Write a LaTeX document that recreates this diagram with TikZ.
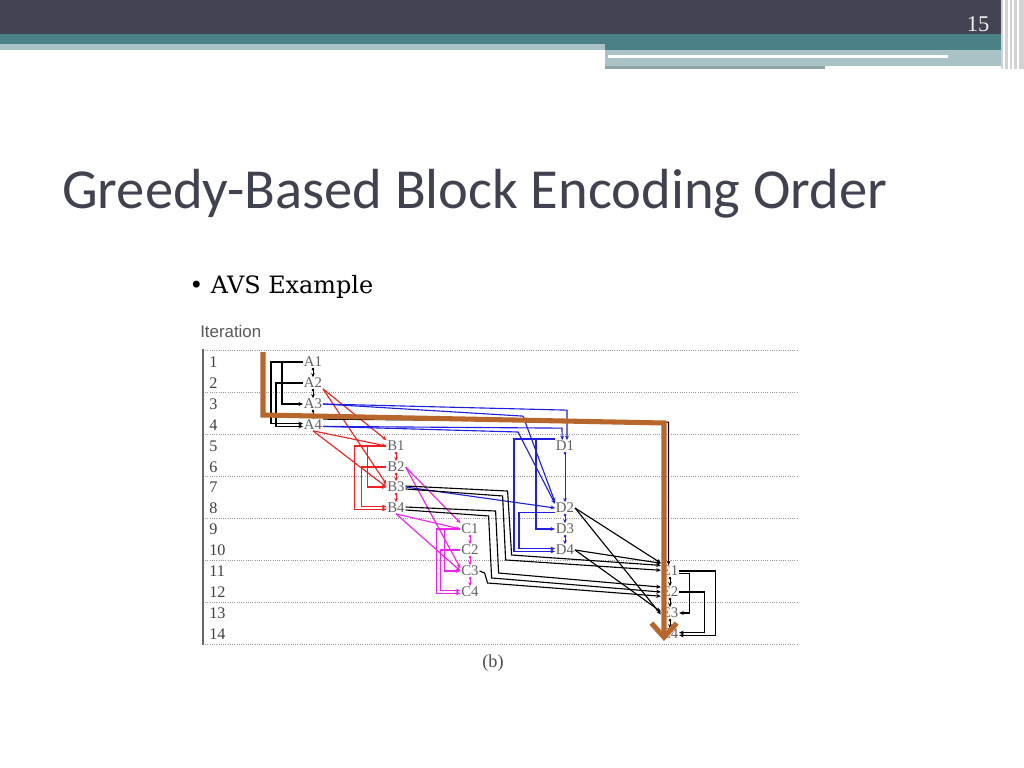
\documentclass[tikz,border=0pt]{standalone}
\usepackage{fontspec}
\setmainfont{Liberation Serif}
\newfontfamily\titlefont{Carlito}
\newfontfamily\bodyfont{DejaVu Serif}
\newfontfamily\labelfont{Liberation Sans}
\usetikzlibrary{positioning,arrows.meta,calc}
\definecolor{hdrdark}{HTML}{434453}
\definecolor{hdrteal}{HTML}{4A8187}
\definecolor{hdrlight}{HTML}{A9C2C5}
\definecolor{titlegray}{HTML}{40424F}
\definecolor{pathorange}{HTML}{B8662C}
\definecolor{blkred}{HTML}{F02020}
\definecolor{blkblue}{HTML}{2020E0}
\definecolor{blkmag}{HTML}{F020F0}

\begin{document}
\begin{tikzpicture}[
  x=0.025cm, y=-0.025cm,
  blk/.style={inner sep=0.5pt, font=\fontsize{10.5}{10}\selectfont, text=black!62},
  rownum/.style={anchor=west, inner sep=0pt, font=\fontsize{11.5}{12}\selectfont, text=black!75},
  link/.style={line width=0.8pt, -{Stealth[length=3.2pt,width=2.8pt]}},
  vstep/.style={line width=0.7pt, {Circle[length=1.8pt]}-{Stealth[length=2.8pt,width=2.6pt]}},
  rowline/.style={gray!80, line width=0.7pt, dash pattern=on 0.7pt off 0.9pt},
  orangepath/.style={pathorange, line width=3.6pt, line join=miter,
                     -{Straight Barb[length=10pt,width=18pt]}},
]
\useasboundingbox (0,0) rectangle (1024,768);
\fill[white] (0,0) rectangle (1024,768);

% ================= slide header =================
\fill[hdrdark] (0,0) rectangle (1024,34);
\fill[hdrteal] (0,34) rectangle (1005,44);
\fill[hdrlight] (0,44) rectangle (605,50);
\fill[hdrteal] (605,44) rectangle (1005,50);
\fill[hdrlight] (605,50) rectangle (1005,66);
\fill[white] (608,55) rectangle (948,58);
\fill[hdrlight!85!black] (605,66) rectangle (825,69);
\fill[gray!35] (1001,0) rectangle (1024,69);
\draw[white, line width=0.8pt] (1004,0) -- (1004,69) (1009,0) -- (1009,69)
     (1013,0) -- (1013,69) (1018,0) -- (1018,69);
\node[text=white!88!gray, font=\fontsize{16}{16}\selectfont] (pnum) at (978,24) {15};

% title and bullet
\node[anchor=base west, inner sep=0pt, text=titlegray,
      font=\titlefont\fontsize{40.2}{41}\selectfont] (title) at (62,208)
     {Greedy-Based Block Encoding Order};
\node[anchor=base west, inner sep=0pt, font=\bodyfont\fontsize{17}{18}\selectfont]
     (bullet) at (189,293) {\textbullet\ AVS Example};

% ================= iteration grid =================
\node[anchor=base west, inner sep=0pt, text=black!65,
      font=\labelfont\fontsize{12}{12}\selectfont] (iter) at (200,337) {Iteration};
\draw[rowline] (205,350) -- (797,350);
\draw[rowline] (205,392) -- (797,392);
\draw[rowline] (205,434) -- (797,434);
\draw[rowline] (205,476) -- (797,476);
\draw[rowline] (205,518) -- (797,518);
\draw[rowline] (205,560) -- (797,560);
\draw[rowline] (205,602) -- (797,602);
\draw[rowline] (205,644) -- (797,644);
\draw[black!60, line width=0.9pt] (203,349) -- (203,645);

\node[rownum] (r1) at (209,362) {1};   \node[rownum] (r2) at (209,383) {2};
\node[rownum] (r3) at (209,404) {3};   \node[rownum] (r4) at (209,425) {4};
\node[rownum] (r5) at (209,446) {5};   \node[rownum] (r6) at (209,467) {6};
\node[rownum] (r7) at (209,487) {7};   \node[rownum] (r8) at (209,508) {8};
\node[rownum] (r9) at (209,529) {9};   \node[rownum] (r10) at (209,550) {10};
\node[rownum] (r11) at (209,571) {11}; \node[rownum] (r12) at (209,592) {12};
\node[rownum] (r13) at (209,613) {13}; \node[rownum] (r14) at (209,634) {14};

% ================= blocks =================
\node[blk] (A1) at (313,362) {A1}; \node[blk] (A2) at (313,383) {A2};
\node[blk] (A3) at (313,404) {A3}; \node[blk] (A4) at (313,425) {A4};
\node[blk] (B1) at (396,446) {B1}; \node[blk] (B2) at (396,467) {B2};
\node[blk] (B3) at (396,487) {B3}; \node[blk] (B4) at (396,508) {B4};
\node[blk] (C1) at (470,529) {C1}; \node[blk] (C2) at (470,550) {C2};
\node[blk] (C3) at (470,571) {C3}; \node[blk] (C4) at (470,592) {C4};
\node[blk] (D1) at (565,446) {D1}; \node[blk] (D2) at (565,508) {D2};
\node[blk] (D3) at (565,529) {D3}; \node[blk] (D4) at (565,550) {D4};
\node[blk] (E1) at (670,571) {E1}; \node[blk] (E2) at (670,592) {E2};
\node[blk] (E3) at (670,613) {E3}; \node[blk] (E4) at (670,634) {E4};

% ================= A group (black) =================
\draw[link] (A1.west) -- ++(-21,0) |- (A3.west);
\draw[link] (A1.west) -- ++(-32,0) |- ([yshift=1pt]A4.west);
\draw[link] (A2.west) -- ++(-27,0) |- ([yshift=-1pt]A4.west);
\draw[vstep] (A1) -- (A2);
\draw[vstep] (A2) -- (A3);
\draw[vstep] (A3) -- (A4);

% ================= B group (red) =================
\draw[link, blkred] (A2.south east) -- (B1.north west);
\draw[link, blkred] (A2.south east) -- ([yshift=2pt]B3.west);
\draw[link, blkred] (A4.south) -- (B1.west);
\draw[link, blkred] (A4.south) -- (B3.west);
\draw[link, blkred] (B1.west) -- ++(-19,0) |- (B3.west);
\draw[link, blkred] (B1.west) -- ++(-32,0) |- ([yshift=-1pt]B4.west);
\draw[link, blkred] (B2.west) -- ++(-25,0) |- ([yshift=1pt]B4.west);
\draw[vstep, blkred] (B1) -- (B2);
\draw[vstep, blkred] (B2) -- (B3);
\draw[vstep, blkred] (B3) -- (B4);

% ================= C group (magenta) =================
\draw[link, blkmag] (B2.east) -- (C1.north west);
\draw[link, blkmag] (B2.east) -- ([yshift=2pt]C3.west);
\draw[link, blkmag] (B4.south) -- (C1.west);
\draw[link, blkmag] (B4.south) -- (C3.west);
\draw[link, blkmag] (C1.west) -- ++(-16,0) |- (C3.west);
\draw[link, blkmag] (C1.west) -- ++(-24,0) |- ([yshift=-1pt]C4.west);
\draw[link, blkmag] (C2.west) -- ++(-20,0) |- ([yshift=1pt]C4.west);
\draw[vstep, blkmag] (C1) -- (C2);
\draw[vstep, blkmag] (C2) -- (C3);
\draw[vstep, blkmag] (C3) -- (C4);

% ================= D group (blue) =================
\draw[link, blkblue] (A3.east) -- ($(D1.north)+(2,-30)$) -- ([xshift=1.4pt]D1.north);
\draw[link, blkblue] (A3.east) -- ($(D2.north west)+(-32,-86)$) -- (D2.north west);
\draw[link, blkblue] ([yshift=-1pt]A4.east) -- ($(D1.north)+(-3,-12)$) -- ([xshift=-2pt]D1.north);
\draw[link, blkblue] ([yshift=-1pt]A4.east) -- ($(D2.west)+(-37,-76)$) -- ([yshift=3pt]D2.west);
\draw[link, blkblue] (B3.east) -- (D2.west);
\draw[link, blkblue] ([yshift=5pt]D1.west) -- ++(-19,0) |- (D3.west);
\draw[link, blkblue] ([yshift=5pt]D1.west) -- ++(-41,0) |- ([yshift=-1pt]D4.west);
\draw[link, blkblue] ([yshift=-3pt]D2.west) -- ++(-36,0) |- ([yshift=1pt]D4.west);
\draw[vstep, blkblue] (D1) -- (D2);
\draw[vstep, blkblue] (D2) -- (D3);
\draw[vstep, blkblue] (D3) -- (D4);

% ================= E group (black) =================
\draw[link] (A4.north east) -- ($(E1.north)+(-1.5,-143)$) -- ([xshift=-1pt]E1.north);
\draw[link] ([yshift=0.7pt]B3.east) -- ++(102,5) -- ++(4,64) -- ([yshift=4pt]E1.west);
\draw[link] ([yshift=-1.4pt]B3.east) -- ++(97,7) -- ++(3,64) -- ([yshift=0.5pt]E1.west);
\draw[link] ([yshift=0.7pt]B4.east) -- ++(90,4) -- ++(3,62) -- ([yshift=3.5pt]E2.west);
\draw[link] ([yshift=-1.4pt]B4.east) -- ++(83,6) -- ++(3,62) -- (E2.west);
\draw[link] (C3.east) -- ++(5,2) -- ++(3,10) -- ([yshift=-3pt]E2.west);
\draw[link] (D2.east) -- ([yshift=1.5pt]E1.north west);
\draw[link] (D2.east) -- ([yshift=-1pt]E3.west);
\draw[link] (D4.east) -- ([yshift=5.5pt]E1.west);
\draw[link] (D4.east) -- ([yshift=1pt]E3.west);
\draw[link] (E1.east) -- ++(36,0) |- ([yshift=-1pt]E4.east);
\draw[link] ([yshift=-2pt]E1.east) -- ++(10,0) |- (E3.east);
\draw[link] (E2.east) -- ++(25,0) |- ([yshift=1pt]E4.east);
\draw[vstep] (E1) -- (E2);
\draw[vstep] (E2) -- (E3);
\draw[vstep] (E3) -- (E4);

% ================= greedy order path =================
\coordinate (otop) at (263,352);
\coordinate (obend) at (263,415);
\coordinate (oturn) at (664,423);
\coordinate (oend) at (664,641);
\draw[orangepath] (otop) -- (obend) -- (oturn) -- (oend);

% caption
\node[font=\fontsize{13}{13}\selectfont, text=black!70] (cap) at (493,663) {(b)};
\end{tikzpicture}
\end{document}
